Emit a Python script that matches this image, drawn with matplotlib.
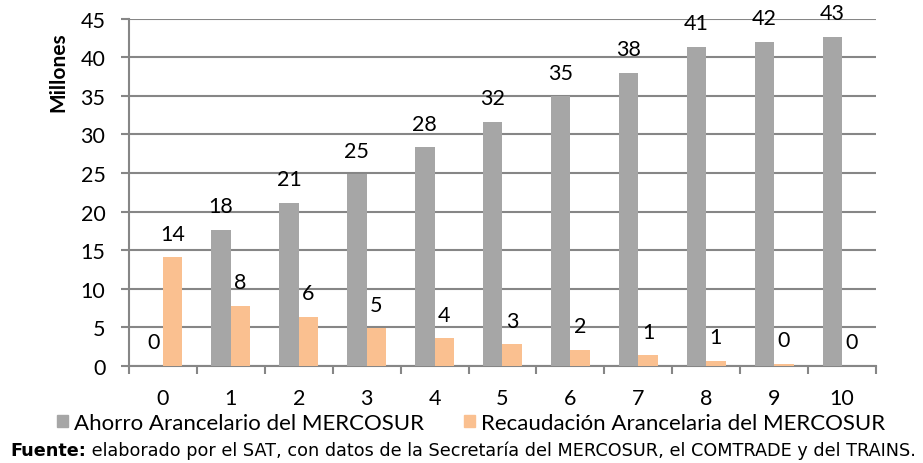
import matplotlib
matplotlib.use("Agg")
import matplotlib.pyplot as plt
import numpy as np
from matplotlib.patches import Patch

#-----------------------------------------
# data (millions)

years = ['0', '1', '2', '3', '4', '5', '6', '7', '8', '9', '10']
ahorro = [0, 17.6, 21.1, 24.8, 28.3, 31.6, 34.9, 38.0, 41.3, 42.0, 42.6]
recaudacion = [14.1, 7.8, 6.4, 4.9, 3.6, 2.8, 2.1, 1.4, 0.7, 0.3, 0.02]
y_ticks = [0, 5, 10, 15, 20, 25, 30, 35, 40, 45]

serie_ahorro = 'Ahorro Arancelario del MERCOSUR'
serie_recaudacion = 'Recaudación Arancelaria del MERCOSUR'
fuente_bold = 'Fuente:'
fuente_text = ' elaborado por el SAT, con datos de la Secretaría del MERCOSUR, el COMTRADE y del TRAINS.'

gray = '#a6a6a6'
orange = '#fac090'
grid_color = '#868686'

#-----------------------------------------

plt.rcParams['font.family'] = ['Lato', 'DejaVu Sans']

W, H = 923, 464
fig = plt.figure(figsize=(W / 100, H / 100), dpi=100)
ax = fig.add_axes([129 / W, 97 / H, (876 - 129) / W, (444.5 - 97) / H])

x = np.arange(len(years))
width = 0.287
b1 = ax.bar(x - width / 2, ahorro, width, color=gray, zorder=3)
b2 = ax.bar(x + width / 2, recaudacion, width, color=orange, zorder=3)

# value labels above the bars
for bars, vals in ((b1, ahorro), (b2, recaudacion)):
    for rect, v in zip(bars, vals):
        ax.annotate(f"{v:.0f}", (rect.get_x() + rect.get_width() / 2, v),
                    xytext=(0, 17), textcoords='offset points',
                    ha='center', va='center', fontsize=15.5, color='black', zorder=4)

ax.set_xlim(-0.5, len(years) - 0.5)
ax.set_ylim(0, 45)
ax.set_yticks(y_ticks)
ax.tick_params(axis='y', labelsize=15.5, length=6, width=1.5, color=grid_color, pad=11)
ax.yaxis.grid(True, color=grid_color, linewidth=1.5, zorder=0)

# category labels in the middle, tick marks on the boundaries
ax.set_xticks(x)
ax.set_xticklabels(years, fontsize=15.5)
ax.tick_params(axis='x', which='major', length=0, pad=16)
ax.set_xticks(np.arange(-0.5, len(years)), minor=True)
ax.tick_params(axis='x', which='minor', length=6, width=1.5, color=grid_color, direction='out')

for side in ('top', 'right'):
    ax.spines[side].set_visible(False)
for side in ('left', 'bottom'):
    ax.spines[side].set_color(grid_color)
    ax.spines[side].set_linewidth(1.5)

fig.text(58 / W, 1 - 72 / H, 'Millones', rotation=90, ha='center', va='center',
         fontsize=15, fontweight='bold')

handles = [Patch(color=gray), Patch(color=orange)]
fig.legend(handles, [serie_ahorro, serie_recaudacion], loc='center',
           bbox_to_anchor=(471 / W, 1 - 424 / H), ncol=2, frameon=False,
           fontsize=16, handlelength=0.5, handleheight=0.5, handletextpad=0.25,
           columnspacing=1.8, borderpad=0)

# source line: bold prefix + regular text
t1 = fig.text(10 / W, 1 - 451 / H, fuente_bold, fontsize=12.7, fontweight='bold',
              family='DejaVu Sans', va='center')
fig.canvas.draw()
bb = t1.get_window_extent(fig.canvas.get_renderer())
fig.text(bb.x1 / W, 1 - 451 / H, fuente_text, fontsize=12.7, family='DejaVu Sans', va='center')

fig.savefig('out.png', dpi=100)
plt.close()
